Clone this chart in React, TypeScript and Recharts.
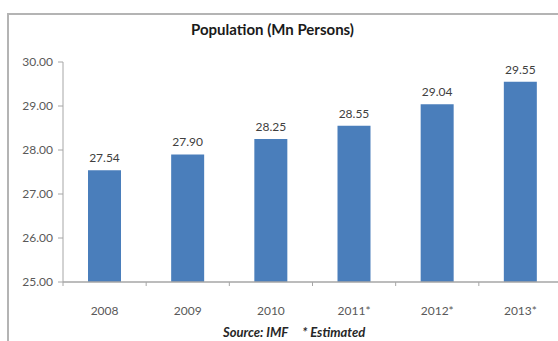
import { BarChart, Bar, XAxis, YAxis, LabelList } from "recharts";

const years = ["2008", "2009", "2010", "2011*", "2012*", "2013*"];
const population = [27.54, 27.9, 28.25, 28.55, 29.04, 29.55];
const yTicks = [25, 26, 27, 28, 29, 30];

const data = years.map((year, i) => ({ year, value: population[i] }));

const FONT = "Lato, 'Open Sans', sans-serif";
const AXIS = "#a6a6a6";
const FRAME = "#b4b4b4";
const PLOT_LEFT = 63;
const PLOT_TOP = 62;
const PLOT_BOTTOM = 282;
const PLOT_WIDTH = 499;
const CHART_W = 558;
const CHART_H = 341;
const BAND = PLOT_WIDTH / years.length;

interface TickProps {
  x?: number;
  y?: number;
  payload?: { value: string };
}

function YearTick({ x = 0, payload }: TickProps) {
  const edge = x - BAND / 2;
  return (
    <g>
      <line x1={edge} x2={edge} y1={PLOT_BOTTOM} y2={PLOT_BOTTOM + 4} stroke={AXIS} />
      <text
        x={x}
        y={PLOT_BOTTOM + 33}
        textAnchor="middle"
        fontSize={12}
        fill="#595959"
        fontFamily={FONT}
      >
        {payload?.value}
      </text>
    </g>
  );
}

export default function App() {
  return (
    <div
      style={{
        position: "absolute",
        left: 0,
        top: 0,
        width: 558,
        height: 341,
        overflow: "hidden",
        background: "#fff",
        fontFamily: FONT,
      }}
    >
      <style>{"html,body{overflow:hidden;margin:0}"}</style>
      {/* frame: only the left and top edges are visible in the crop */}
      <div style={{ position: "absolute", left: 7, top: 13, width: 551, height: 2, background: FRAME }} />
      <div style={{ position: "absolute", left: 7, top: 13, width: 2, height: 328, background: FRAME }} />
      <div
        style={{
          position: "absolute",
          left: 0,
          top: 20,
          width: 545,
          textAlign: "center",
          fontSize: 15,
          fontWeight: 700,
          color: "#1a1a1a",
        }}
      >
        Population (Mn Persons)
      </div>
      <div style={{ position: "absolute", left: 0, top: 0, width: CHART_W, height: CHART_H, overflow: "hidden" }}>
        <BarChart
          width={PLOT_LEFT + PLOT_WIDTH + 10}
          height={CHART_H}
          data={data}
          margin={{ top: PLOT_TOP, right: 10, left: 0, bottom: CHART_H - PLOT_BOTTOM - 30 }}
        >
          <XAxis
            dataKey="year"
            height={30}
            axisLine={{ stroke: AXIS, strokeWidth: 1.5 }}
            tickLine={false}
            tick={<YearTick />}
            interval={0}
          />
          <YAxis
            domain={[25, 30]}
            ticks={yTicks}
            width={PLOT_LEFT}
            tickFormatter={(v: number) => v.toFixed(2)}
            tick={{ fontSize: 12, fill: "#595959", fontFamily: FONT }}
            axisLine={{ stroke: AXIS }}
            tickLine={{ stroke: AXIS }}
            tickSize={5}
            tickMargin={5}
            allowDataOverflow
          />
          <Bar dataKey="value" fill="#4a7ebb" barSize={33} isAnimationActive={false}>
            <LabelList
              dataKey="value"
              position="top"
              offset={8}
              fontSize={12}
              fill="#404040"
              fontFamily={FONT}
              formatter={(v: number) => v.toFixed(2)}
            />
          </Bar>
        </BarChart>
      </div>
      <div
        style={{
          position: "absolute",
          left: 223,
          top: 324,
          fontSize: 13,
          fontWeight: 700,
          fontStyle: "italic",
          color: "#262626",
          whiteSpace: "pre",
        }}
      >
        {"Source: IMF     * Estimated"}
      </div>
    </div>
  );
}
